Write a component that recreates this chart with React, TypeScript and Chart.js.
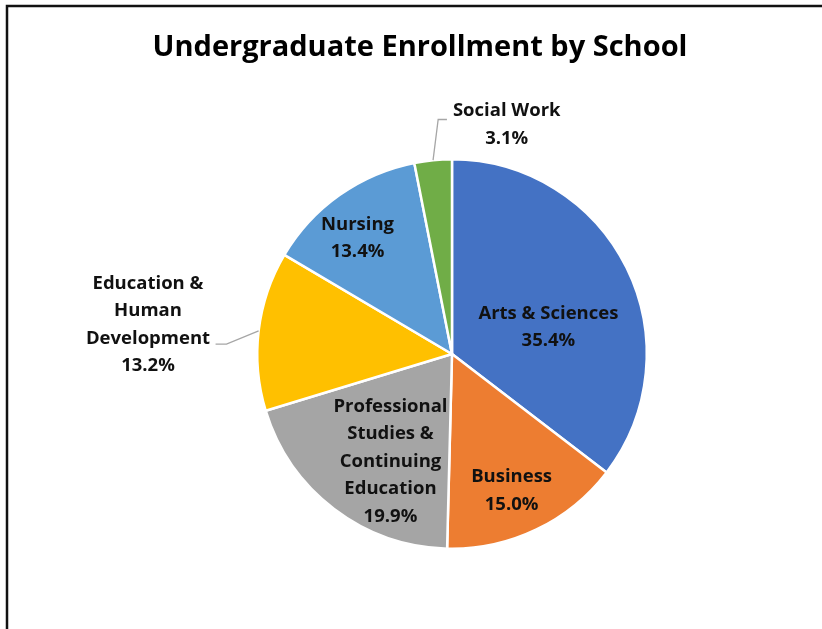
import React, { useEffect, useRef } from "react";
import { Chart, registerables } from "chart.js";

Chart.register(...registerables);

const TITLE = "Undergraduate Enrollment by School";
const categories = [
  "Arts & Sciences",
  "Business",
  "Professional Studies & Continuing Education",
  "Education & Human Development",
  "Nursing",
  "Social Work",
];
const shares = [35.4, 15.0, 19.9, 13.2, 13.4, 3.1];
const labelLines = [
  ["Arts & Sciences"],
  ["Business"],
  ["Professional", "Studies &", "Continuing", "Education"],
  ["Education &", "Human", "Development"],
  ["Nursing"],
  ["Social Work"],
];
const colors = ["#4472C4", "#ED7D31", "#A5A5A5", "#FFC000", "#5B9BD5", "#70AD47"];

// label block centres, relative to pie centre in units of radius
const labelOffsets = [
  [0.495, -0.138],
  [0.306, 0.702],
  [-0.316, 0.551],
  [-1.561, -0.151],
  [-0.485, -0.594],
  [0.281, -1.176],
];
// leader line bend points (units of radius), from slice edge outward
const leaders: (number[][] | null)[] = [
  null,
  null,
  null,
  [[-1.158, -0.051], [-1.214, -0.051]],
  null,
  [[-0.071, -1.204], [-0.026, -1.204]],
];

const FONT = "'Open Sans', 'Noto Sans', sans-serif";

const labelPlugin = {
  id: "pieLabels",
  beforeDraw(chart: any) {
    const { ctx, width, height } = chart;
    ctx.save();
    ctx.fillStyle = "#ffffff";
    ctx.fillRect(0, 0, width, height);
    ctx.strokeStyle = "#111111";
    ctx.lineWidth = 2.5;
    ctx.beginPath();
    ctx.moveTo(7, height + 5);
    ctx.lineTo(7, 6);
    ctx.lineTo(width + 5, 6);
    ctx.stroke();
    ctx.restore();
  },
  afterDraw(chart: any) {
    const { ctx } = chart;
    const meta = chart.getDatasetMeta(0);
    ctx.save();
    // title
    ctx.fillStyle = "#000000";
    ctx.font = `bold 29px ${FONT}`;
    ctx.textAlign = "center";
    ctx.textBaseline = "middle";
    ctx.fillText(TITLE, 420, 48);

    ctx.font = `bold 18.5px ${FONT}`;
    const lh = 27.5;
    meta.data.forEach((arc: any, i: number) => {
      const { x, y, outerRadius, startAngle, endAngle } = arc.getProps(
        ["x", "y", "outerRadius", "startAngle", "endAngle"],
        true
      );
      const r = outerRadius;
      const lead = leaders[i];
      if (lead) {
        const mid = (startAngle + endAngle) / 2;
        ctx.strokeStyle = "#A6A6A6";
        ctx.lineWidth = 1.3;
        ctx.beginPath();
        ctx.moveTo(x + Math.cos(mid) * r, y + Math.sin(mid) * r);
        lead.forEach((p) => ctx.lineTo(x + p[0] * r, y + p[1] * r));
        ctx.stroke();
      }
      const lines = [...labelLines[i], shares[i].toFixed(1) + "%"];
      const cx = x + labelOffsets[i][0] * r;
      const cy = y + labelOffsets[i][1] * r;
      const top = cy - ((lines.length - 1) * lh) / 2;
      ctx.fillStyle = "#111111";
      lines.forEach((t, k) => ctx.fillText(t, cx, top + k * lh));
    });
    ctx.restore();
  },
};

export default function App() {
  const ref = useRef<HTMLCanvasElement>(null);
  useEffect(() => {
    if (!ref.current) return;
    const chart = new Chart(ref.current, {
      type: "pie",
      data: {
        labels: categories,
        datasets: [
          {
            data: shares,
            backgroundColor: colors,
            borderColor: "#ffffff",
            borderWidth: 2.5,
          },
        ],
      },
      options: {
        responsive: false,
        animation: false,
        layout: { padding: { top: 158, bottom: 79, left: 200, right: 118 } },
        plugins: {
          legend: { display: false },
          title: { display: false },
          tooltip: { enabled: false },
        },
      },
      plugins: [labelPlugin],
    });
    return () => chart.destroy();
  }, []);
  return (
    <div style={{ position: "fixed", left: 0, top: 0, width: 822, height: 629, background: "#fff" }}>
      <canvas ref={ref} width={822} height={629} style={{ width: 822, height: 629 }} />
    </div>
  );
}
